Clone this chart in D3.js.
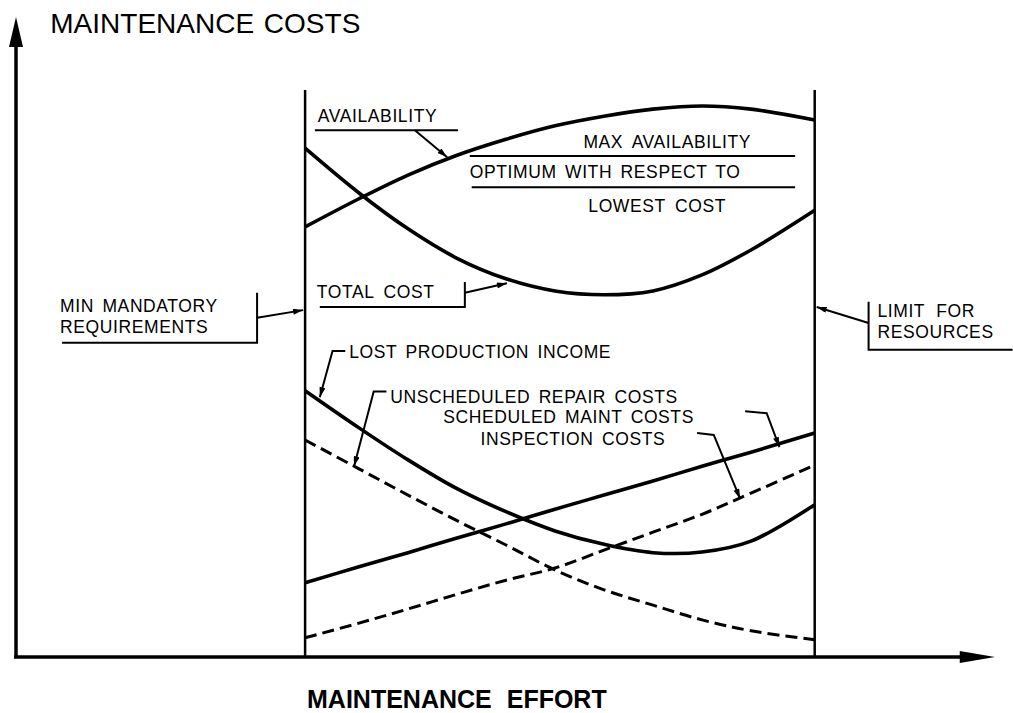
<!DOCTYPE html>
<html>
<head>
<meta charset="utf-8">
<script src="https://cdn.jsdelivr.net/npm/d3@7"></script>
<style>
  html, body { margin: 0; padding: 0; background: #fff; }
  svg { display: block; font-family: "Liberation Sans", Arial, Helvetica, sans-serif; }
</style>
</head>
<body>
<svg id="chart" width="1013" height="713"></svg>
<script>
// ---------------- DATA (effort 0-100, cost 0-100) ----------------
const effort = [29.5, 35, 40, 45, 50, 55, 60, 65, 70, 75, 81.5];
const availability   = [67.2, 71.6, 75.3, 78.4, 80.9, 83.0, 84.5, 85.6, 86.1, 85.6, 83.9];
const totalCost      = [79.5, 72.5, 66.9, 62.3, 59.1, 57.2, 56.6, 57.2, 59.7, 63.6, 69.8];
const lostProduction = [41.6, 35.8, 30.8, 26.3, 22.7, 19.7, 17.6, 16.3, 16.4, 18.1, 23.8];
const unscheduledRepair = [33.9, 29.4, 25.3, 21.3, 17.5, 13.6, 10.5, 8.1, 5.8, 4.1, 2.7];
const scheduledMaint = [11.6, 14.1, 16.3, 18.6, 20.8, 23.1, 25.3, 27.5, 29.8, 32.0, 35.0];
const inspection     = [3.0, 5.3, 7.5, 9.8, 12.0, 13.9, 16.7, 19.5, 22.3, 25.6, 30.0];

const minMandatory = 29.5;   // effort bound
const resourceLimit = 81.5;  // effort bound
const boundTop = 88.6;

const seriesNames = ["AVAILABILITY", "TOTAL COST", "LOST PRODUCTION INCOME",
  "UNSCHEDULED REPAIR COSTS", "SCHEDULED MAINT COSTS", "INSPECTION COSTS"];

// ---------------- SETUP ----------------
const svg = d3.select("#chart");
const x = d3.scaleLinear().domain([0, 100]).range([16, 996]);
const y = d3.scaleLinear().domain([0, 100]).range([657, 17]);

const defs = svg.append("defs");
defs.append("marker")
  .attr("id", "arr")
  .attr("viewBox", "0 0 10 6")
  .attr("refX", 10).attr("refY", 3)
  .attr("markerWidth", 11).attr("markerHeight", 6)
  .attr("markerUnits", "userSpaceOnUse")
  .attr("orient", "auto")
  .append("path").attr("d", "M0,0 L10,3 L0,6 Z").attr("fill", "#000");

// ---------------- AXES ----------------
svg.append("line")
  .attr("x1", x(0)).attr("x2", x(0))
  .attr("y1", y(0)).attr("y2", y(96))
  .attr("stroke", "#000").attr("stroke-width", 3.5);
svg.append("path")
  .attr("d", `M${x(0)},${y(100)} L${x(0) - 7},${y(95.3)} L${x(0) + 7},${y(95.3)} Z`)
  .attr("fill", "#000");
svg.append("line")
  .attr("x1", x(0) - 2).attr("x2", x(97))
  .attr("y1", y(0)).attr("y2", y(0))
  .attr("stroke", "#000").attr("stroke-width", 3.5);
svg.append("path")
  .attr("d", `M${x(99.9)},${y(0)} L${x(96.3)},${y(0) - 6} L${x(96.3)},${y(0) + 6} Z`)
  .attr("fill", "#000");

[minMandatory, resourceLimit].forEach(b => {
  svg.append("line")
    .attr("x1", x(b)).attr("x2", x(b))
    .attr("y1", y(0)).attr("y2", y(boundTop))
    .attr("stroke", "#000").attr("stroke-width", 2.5);
});

// ---------------- CURVES ----------------
const line = d3.line().x(d => x(d[0])).y(d => y(d[1])).curve(d3.curveCatmullRom.alpha(0.5));
const curves = [
  { v: availability, dash: null },
  { v: totalCost, dash: null },
  { v: lostProduction, dash: null },
  { v: unscheduledRepair, dash: "12,6" },
  { v: scheduledMaint, dash: null },
  { v: inspection, dash: "12,6" }
];
curves.forEach(c => {
  svg.append("path")
    .datum(effort.map((e, i) => [e, c.v[i]]))
    .attr("d", line)
    .attr("fill", "none")
    .attr("stroke", "#000")
    .attr("stroke-width", c.dash ? 3 : 3.6)
    .attr("stroke-dasharray", c.dash)
    .attr("stroke-linecap", "butt");
});

// ---------------- TEXT & LEADERS ----------------
// lines: array of [string, effortX, costY, wordSpacing]
function block(lines, size, weight, ls) {
  const t = svg.append("text")
    .attr("font-size", size)
    .attr("font-weight", weight || "normal")
    .attr("letter-spacing", ls || 0)
    .attr("fill", "#000");
  lines.forEach(l => {
    t.append("tspan")
      .attr("x", x(l[1])).attr("y", y(l[2]))
      .attr("word-spacing", l[3] || 0)
      .text(l[0]);
  });
}
function poly(pts, arrow, w) {
  svg.append("path")
    .attr("d", d3.line()(pts.map(p => [x(p[0]), y(p[1])])))
    .attr("fill", "none").attr("stroke", "#000")
    .attr("stroke-width", w || 2)
    .attr("marker-end", arrow ? "url(#arr)" : null);
}

const fs = 17.5, ls = 0.6;
block([["MAINTENANCE COSTS", 3.5, 97.5, 2]], 28);
block([["MAINTENANCE EFFORT", 29.7, -8.0, 8]], 25, "bold");

// availability
block([[seriesNames[0], 30.8, 83.6]], fs, "normal", ls);
poly([[30.5, 82.3], [45.1, 82.3]]);
poly([[40.7, 82.3], [44.0, 78.1]], true);

// optimum block
block([["MAX AVAILABILITY", 57.9, 79.5, 4],
       ["OPTIMUM WITH RESPECT TO", 46.3, 74.8, 3],
       ["LOWEST COST", 58.4, 69.5, 4]], fs, "normal", ls);
poly([[46.3, 78.3], [79.5, 78.3]]);
poly([[46.5, 73.4], [79.5, 73.4]]);

// total cost
block([[seriesNames[1], 30.7, 56.1, 4]], fs, "normal", ls);
poly([[31.0, 54.7], [45.8, 54.7], [45.8, 58.6]]);
poly([[45.8, 56.9], [50.1, 58.4]], true);

// min mandatory
block([["MIN MANDATORY", 4.5, 53.85, 3], ["REQUIREMENTS", 4.5, 50.7]], fs, "normal", ls);
poly([[4.7, 49.1], [24.6, 49.1], [24.6, 56.9]]);
poly([[24.6, 53.0], [29.3, 54.2]], true);

// limit for resources
block([["LIMIT FOR", 87.9, 53.1, 6], ["RESOURCES", 87.9, 49.8]], fs, "normal", ls);
poly([[87.0, 55.5], [87.0, 48.0], [101.7, 48.0]]);
poly([[87.0, 52.2], [81.7, 54.7]], true);

// lost production income
block([[seriesNames[2], 34.0, 46.7, 3]], fs, "normal", ls);
poly([[33.6, 47.8], [32.3, 47.8], [31.0, 40.6]], true);

// stacked cost labels
block([[seriesNames[3], 38.2, 39.75, 3],
       [seriesNames[4], 43.6, 36.55, 3],
       [seriesNames[5], 47.4, 33.1, 3]], fs, "normal", ls);
poly([[37.8, 41.5], [36.5, 41.5], [34.5, 29.8]], true);
poly([[74.4, 38.4], [76.6, 38.1], [77.9, 32.8]], true);
poly([[69.5, 35.0], [71.2, 34.7], [73.9, 24.7]], true);
</script>
</body>
</html>
